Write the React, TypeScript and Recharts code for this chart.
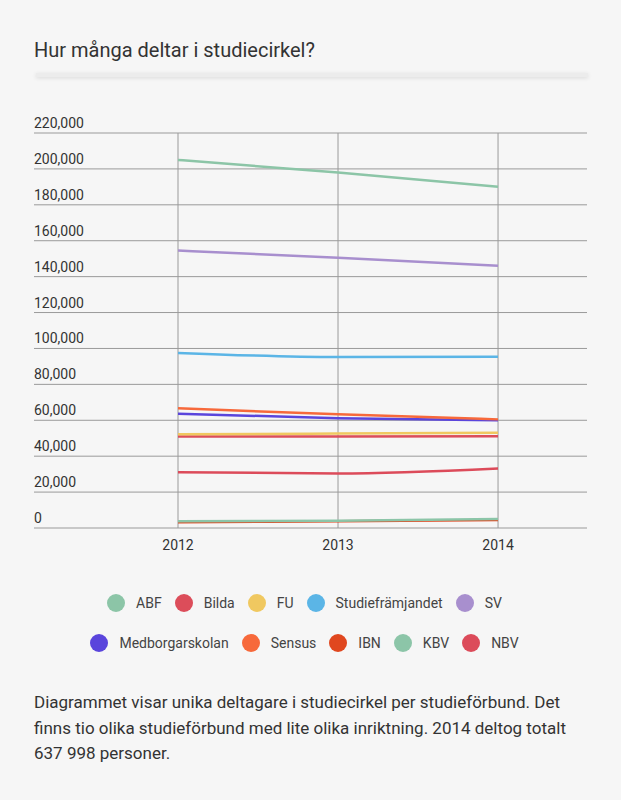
import React from "react";
import { CartesianGrid, Line, LineChart, XAxis, YAxis } from "recharts";

/* years on the x axis */
const years = [2012, 2013, 2014];
const xDomain: [number, number] = [2011.1, 2014.556];

/* participants per study association */
const abf = [205000, 198000, 190000];
const bilda = [50900, 51000, 51100];
const fu = [52200, 52600, 53100];
const studieframjandet = [97500, 95200, 95400];
const sv = [154500, 150500, 146000];
const medborgarskolan = [63700, 61100, 60000];
const sensus = [66700, 63300, 60500];
const ibn = [3200, 3700, 4500];
const kbv = [3700, 4100, 5000];
const nbv = [31000, 30400, 33200];

const yTicks = [0, 20000, 40000, 60000, 80000, 100000, 120000, 140000, 160000, 180000, 200000, 220000];

const series = [
  { key: "ABF", values: abf, color: "#8cc5a7" },
  { key: "Bilda", values: bilda, color: "#dc4d5a" },
  { key: "FU", values: fu, color: "#f0c860" },
  { key: "Studiefrämjandet", values: studieframjandet, color: "#5bb5e6" },
  { key: "SV", values: sv, color: "#a88fce" },
  { key: "Medborgarskolan", values: medborgarskolan, color: "#5a45dc" },
  { key: "Sensus", values: sensus, color: "#f7693b" },
  { key: "IBN", values: ibn, color: "#e0471f" },
  { key: "KBV", values: kbv, color: "#8cc5a8" },
  { key: "NBV", values: nbv, color: "#dc4b5a" },
];

// draw order so the small ones end up under KBV
const drawOrder = ["IBN", "KBV", "NBV", "Bilda", "FU", "Medborgarskolan", "Sensus", "Studiefrämjandet", "SV", "ABF"];

const data = years.map((year, i) => {
  const row: Record<string, number> = { year };
  series.forEach((s) => (row[s.key] = s.values[i]));
  return row;
});

const FONT = "Roboto, 'Noto Sans', sans-serif";
const PLOT_LEFT = 34;

function YTick(props: any) {
  const { y, payload } = props;
  return (
    <text x={PLOT_LEFT} y={y - 5} fontSize={14} fill="#333" textAnchor="start" fontFamily={FONT}>
      {Number(payload.value).toLocaleString("en-US")}
    </text>
  );
}

// vertical grid only at the year ticks, not at the plot edges
function yearLines(args: any) {
  const sc = args?.xAxis?.scale;
  if (typeof sc === "function") return years.map((yr) => sc(yr));
  const off = args.offset;
  return years.map((yr) => off.left + ((yr - xDomain[0]) / (xDomain[1] - xDomain[0])) * off.width);
}

export default function App() {
  return (
    <div
      style={{
        position: "absolute",
        left: 0,
        top: 0,
        width: 621,
        height: 800,
        background: "#f6f6f6",
        fontFamily: FONT,
        color: "#333",
        overflow: "hidden",
      }}
    >
      <div style={{ position: "absolute", left: 34, top: 38, fontSize: 20, lineHeight: "24px" }}>
        Hur många deltar i studiecirkel?
      </div>
      <div
        style={{
          position: "absolute",
          left: 36,
          top: 73,
          width: 552,
          height: 4,
          background: "#ececec",
          boxShadow: "0 1px 4px rgba(0,0,0,0.12)",
        }}
      />

      <div style={{ position: "absolute", left: 0, top: 0 }}>
        <LineChart width={621} height={560} data={data} margin={{ top: 133, right: 34, bottom: 2, left: PLOT_LEFT - 1 }}>
          <CartesianGrid stroke="#9a9a9a" strokeWidth={1} verticalCoordinatesGenerator={yearLines} />
          <XAxis
            dataKey="year"
            type="number"
            domain={xDomain}
            ticks={years}
            axisLine={false}
            tickLine={false}
            height={30}
            tickMargin={6}
            tick={{ fontSize: 14, fill: "#333", fontFamily: FONT }}
          />
          <YAxis
            width={1}
            domain={[0, 220000]}
            ticks={yTicks}
            axisLine={false}
            tickLine={false}
            tick={(p: any) => <YTick {...p} />}
            interval={0}
          />
          {drawOrder.map((k) => {
            const s = series.find((x) => x.key === k)!;
            return (
              <Line
                key={k}
                type="monotone"
                dataKey={k}
                stroke={s.color}
                strokeWidth={2.5}
                dot={false}
                isAnimationActive={false}
              />
            );
          })}
        </LineChart>
      </div>

      {[series.slice(0, 5), series.slice(5)].map((row, r) => (
        <div
          key={r}
          style={{
            position: "absolute",
            left: 0,
            width: 609,
            top: 594 + r * 40,
            height: 18,
            display: "flex",
            justifyContent: "center",
            alignItems: "center",
            fontSize: 14,
            color: "#444",
          }}
        >
          {row.map((s, i) => (
            <div key={s.key} style={{ display: "flex", alignItems: "center", marginLeft: i === 0 ? 0 : 13 }}>
              <span
                style={{
                  display: "inline-block",
                  width: 18,
                  height: 18,
                  borderRadius: 9,
                  background: s.color,
                  marginRight: 11,
                }}
              />
              <span>{s.key}</span>
            </div>
          ))}
        </div>
      ))}

      <div
        style={{
          position: "absolute",
          left: 34,
          top: 690,
          width: 556,
          fontSize: 17,
          lineHeight: "25.5px",
          color: "#333",
        }}
      >
        Diagrammet visar unika deltagare i studiecirkel per studieförbund. Det finns tio olika studieförbund med lite
        olika inriktning. 2014 deltog totalt 637 998 personer.
      </div>
    </div>
  );
}
